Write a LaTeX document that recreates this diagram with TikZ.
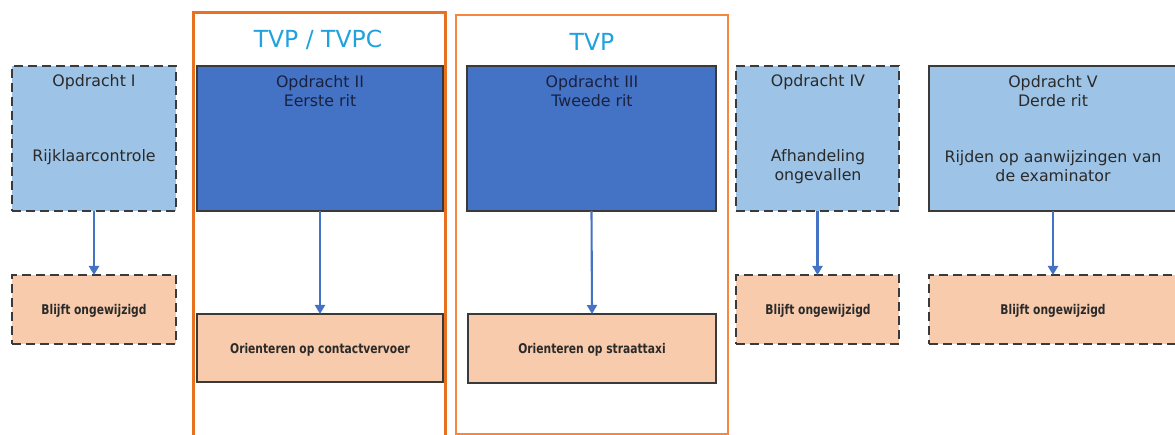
\documentclass[tikz,border=0pt]{standalone}
\usepackage{fontspec}
\setmainfont{DejaVu Sans}
\newfontfamily\peachfont[FakeStretch=0.8]{DejaVu Sans}
\usetikzlibrary{arrows.meta}
\definecolor{lblue}{HTML}{9DC3E6}
\definecolor{dblue}{HTML}{4472C4}
\definecolor{peach}{HTML}{F8CBAD}
\definecolor{orangeA}{HTML}{E8711F}
\definecolor{orangeB}{HTML}{F7873A}
\definecolor{ttl}{HTML}{20A2DE}
\definecolor{bord}{HTML}{3A3A3A}
\definecolor{txt}{HTML}{2A2A2A}
\definecolor{navytxt}{HTML}{1A2140}
\definecolor{arrc}{HTML}{4472C4}
\tikzset{
  boxbase/.style={rectangle, inner sep=0pt, outer sep=0pt},
  dashbox/.style={boxbase, draw=bord, line width=1.8pt, dash pattern=on 9pt off 5pt},
  solidbox/.style={boxbase, draw=bord, line width=1.2pt},
  toptext/.style={font=\fontsize{15.8}{19}\selectfont, text=txt, align=center, inner sep=0pt},
  peachtext/.style={font=\peachfont\bfseries\fontsize{13.4}{15}\selectfont, text=txt, inner sep=0pt},
  ttltext/.style={font=\fontsize{23.5}{27}\selectfont, text=ttl, inner sep=0pt},
  arr/.style={draw=arrc, line width=2.1pt, -{Triangle[width=10pt,length=9pt]}},
  frameA/.style={boxbase, draw=orangeA, line width=3pt},
  frameB/.style={boxbase, draw=orangeB, line width=2.5pt},
}
\begin{document}
\begin{tikzpicture}[x=1pt,y=-1pt]
\clip (0,0) rectangle (1175,435);
\fill[white] (0,0) rectangle (1175,435);
% frames
\node[frameA, minimum width=252pt, minimum height=430pt] (f1) at (319,228) {};
\node[frameB, minimum width=272pt, minimum height=419pt] (f2) at (592,224.5) {};
\node[ttltext] (t1) at (318,40) {TVP / TVPC};
\node[ttltext] (t2) at (592,42) {TVP};
% Opdracht I
\node[dashbox, fill=lblue, minimum width=164pt, minimum height=145pt] (o1) at (94,138.5) {};
\node[toptext] (o1a) at (94,82) {Opdracht I};
\node[toptext] (o1b) at (94,157) {Rijklaarcontrole};
\node[dashbox, fill=peach, minimum width=164pt, minimum height=69pt] (b1) at (94,309.5) {};
\node[peachtext] (b1t) at (94,311) {Blijft ongewijzigd};
\draw[arr] (o1.south) -- (b1.north);
% Opdracht II
\node[solidbox, fill=dblue, minimum width=246pt, minimum height=145pt] (o2) at (320,138.5) {};
\node[toptext, text=navytxt] (o2a) at (320,91.5) {Opdracht II\\Eerste rit};
\node[solidbox, fill=peach, minimum width=246pt, minimum height=68pt] (b2) at (320,348) {};
\node[peachtext] (b2t) at (320,350) {Orienteren op contactvervoer};
\draw[arr] (o2.south) -- (b2.north);
% Opdracht III
\node[solidbox, fill=dblue, minimum width=249pt, minimum height=145pt] (o3) at (591.5,138.5) {};
\node[toptext, text=navytxt] (o3a) at (592,91.5) {Opdracht III\\Tweede rit};
\node[solidbox, fill=peach, minimum width=248pt, minimum height=69pt] (b3) at (592,348.5) {};
\node[peachtext] (b3t) at (592,350) {Orienteren op straattaxi};
\draw[arr] (o3.south) -- (b3.north);
% Opdracht IV
\node[dashbox, fill=lblue, minimum width=163pt, minimum height=145pt] (o4) at (817.5,138.5) {};
\node[toptext] (o4a) at (818,82) {Opdracht IV};
\node[toptext] (o4b) at (818,166.5) {Afhandeling\\ongevallen};
\node[dashbox, fill=peach, minimum width=163pt, minimum height=69pt] (b4) at (817.5,309.5) {};
\node[peachtext] (b4t) at (818,311) {Blijft ongewijzigd};
\draw[arr] (o4.south) -- (b4.north);
% Opdracht V
\node[solidbox, fill=lblue, minimum width=248pt, minimum height=145pt] (o5) at (1053,138.5) {};
\node[toptext] (o5a) at (1053,91.5) {Opdracht V\\Derde rit};
\node[toptext] (o5b) at (1053,166.5) {Rijden op aanwijzingen van\\de examinator};
\node[dashbox, fill=peach, minimum width=248pt, minimum height=69pt] (b5) at (1053,309.5) {};
\node[peachtext] (b5t) at (1053,311) {Blijft ongewijzigd};
\draw[arr] (o5.south) -- (b5.north);
\end{tikzpicture}
\end{document}
